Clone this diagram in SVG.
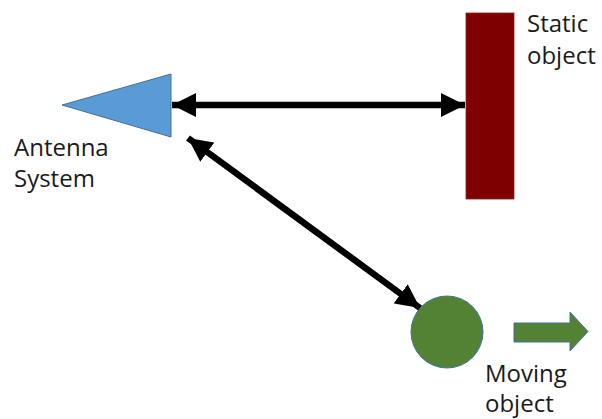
<svg xmlns="http://www.w3.org/2000/svg" width="602" height="419" viewBox="0 0 602 419">
<defs>
<marker id="ah" viewBox="0 0 24 24" refX="24" refY="12" markerWidth="24" markerHeight="24" markerUnits="userSpaceOnUse" orient="auto-start-reverse">
<path d="M0,0 L24,12 L0,24 Z" fill="#000"/>
</marker>
</defs>
<style>
.lbl{font-family:"Open Sans","Liberation Sans",sans-serif;font-size:24px;fill:#1a1a1a}
.con{stroke:#000;stroke-width:6.5;fill:none}
</style>
<rect width="602" height="419" fill="#fff"/>
<g id="antenna">
<polygon points="62,105 171,74 171,137" fill="#5B9BD5" stroke="#41719C" stroke-width="1"/>
<text class="lbl" x="14" y="156">Antenna</text>
<text class="lbl" x="14" y="187">System</text>
</g>
<g id="static">
<rect x="466" y="13" width="48" height="186" fill="#7F0000" stroke="#8B2020" stroke-width="0.8"/>
<text class="lbl" x="527" y="32">Static</text>
<text class="lbl" x="527" y="64">object</text>
</g>
<g id="moving">
<circle cx="447" cy="332" r="36" fill="#548235" stroke="#41719C" stroke-width="1"/>
<path d="M514,323 L570,323 L570,312 L588,331.5 L570,351 L570,342 L514,342 Z" fill="#548235" stroke="#41719C" stroke-width="1"/>
<text class="lbl" x="485" y="382">Moving</text>
<text class="lbl" x="485" y="412">object</text>
</g>
<g id="connectors">
<line class="con" x1="172" y1="105" x2="465" y2="105" marker-start="url(#ah)" marker-end="url(#ah)"/>
<line class="con" x1="188" y1="138" x2="420" y2="308" marker-start="url(#ah)" marker-end="url(#ah)"/>
</g>
</svg>
